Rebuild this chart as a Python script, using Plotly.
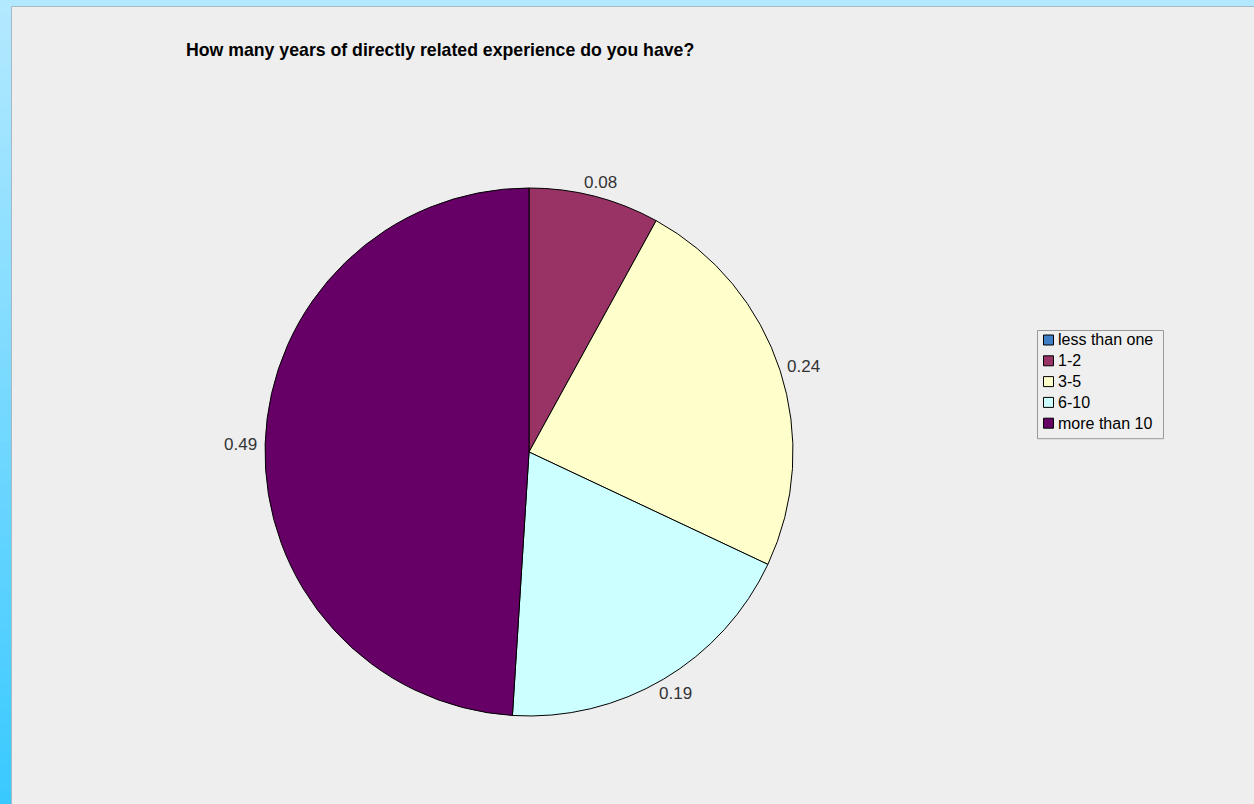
import math
import plotly.graph_objects as go

W, H = 1254, 804

categories = ["less than one", "1-2", "3-5", "6-10", "more than 10"]
shares = [0.0, 0.08, 0.24, 0.19, 0.49]
slice_colors = ["#3F7EC4", "#993366", "#FFFFCC", "#CCFFFF", "#660066"]

title_text = "How many years of directly related experience do you have?"

FONT = "Liberation Sans, Arial, sans-serif"

# pie placement in pixels
CX, CY, R = 529, 452, 264


def px_x(v):
    return v / W


def px_y(v):
    return 1 - v / H


fig = go.Figure()

fig.add_trace(go.Pie(
    labels=categories,
    values=shares,
    textinfo="none",
    sort=False,
    direction="clockwise",
    rotation=0,
    marker=dict(colors=slice_colors, line=dict(color="#000000", width=1)),
    hoverinfo="label+value",
    domain=dict(x=[px_x(CX - R), px_x(CX + R)], y=[px_y(CY + R), px_y(CY - R)]),
    showlegend=False,
))

# window frame: light blue top strip and a gradient strip along the left side
shapes = []
top_rgb = (179, 233, 255)
bot_rgb = (58, 201, 255)
bands = 60
for i in range(bands):
    t = i / (bands - 1)
    r = round(top_rgb[0] + (bot_rgb[0] - top_rgb[0]) * t)
    g = round(top_rgb[1] + (bot_rgb[1] - top_rgb[1]) * t)
    b = round(top_rgb[2] + (bot_rgb[2] - top_rgb[2]) * t)
    y0 = i * H / bands
    y1 = (i + 1) * H / bands + 1
    shapes.append(dict(type="rect", xref="paper", yref="paper",
                       x0=px_x(0), x1=px_x(11), y0=px_y(y1), y1=px_y(y0),
                       fillcolor=f"rgb({r},{g},{b})", line=dict(width=0), layer="below"))
shapes.append(dict(type="rect", xref="paper", yref="paper",
                   x0=px_x(0), x1=px_x(W), y0=px_y(6), y1=px_y(0),
                   fillcolor="rgb(179,233,255)", line=dict(width=0), layer="below"))
shapes.append(dict(type="line", xref="paper", yref="paper",
                   x0=px_x(11.5), x1=px_x(W), y0=px_y(6.5), y1=px_y(6.5),
                   line=dict(color="#A7B9C4", width=1), layer="below"))
shapes.append(dict(type="line", xref="paper", yref="paper",
                   x0=px_x(11.5), x1=px_x(11.5), y0=px_y(H), y1=px_y(6.5),
                   line=dict(color="#A7B9C4", width=1), layer="below"))

annotations = [dict(
    text=f"<b>{title_text}</b>",
    xref="paper", yref="paper",
    x=px_x(184), y=px_y(50),
    xanchor="left", yanchor="middle",
    showarrow=False,
    font=dict(family=FONT, size=17.7, color="#000000"),
)]

# value labels just outside each slice, along the slice's mid-angle
total = sum(shares)
cum = 0.0
label_w, label_h, gap = 33, 14, 8
for v in shares:
    mid = (cum + v / 2) / total * 2 * math.pi
    cum += v
    if v <= 0:
        continue
    dx, dy = math.sin(mid), -math.cos(mid)
    lx = CX + dx * (R + gap) + dx * label_w / 2
    ly = CY + dy * (R + gap) + dy * label_h / 2 + 1
    annotations.append(dict(
        text=f"{v:.2f}", xref="paper", yref="paper",
        x=px_x(lx), y=px_y(ly),
        xanchor="center", yanchor="middle", showarrow=False,
        font=dict(family=FONT, size=17, color="#333333"),
    ))

# compact legend box: small bordered swatch followed by the category name
leg_left, leg_top, leg_right = 1037, 330, 1163
row_h = 20.8
first_row = 340
leg_bottom = first_row + row_h * (len(categories) - 1) + 15
shapes.append(dict(type="rect", xref="paper", yref="paper",
                   x0=px_x(leg_left + 0.5), x1=px_x(leg_right + 0.5),
                   y0=px_y(leg_bottom + 0.5), y1=px_y(leg_top + 0.5),
                   fillcolor="#EFEFEF", line=dict(color="#999999", width=1)))
for k, (name, col) in enumerate(zip(categories, slice_colors)):
    cy = first_row + k * row_h
    shapes.append(dict(type="rect", xref="paper", yref="paper",
                       x0=px_x(1043.5), x1=px_x(1053.5),
                       y0=px_y(cy + 5), y1=px_y(cy - 5),
                       fillcolor=col, line=dict(color="#000000", width=1)))
    annotations.append(dict(
        text=name, xref="paper", yref="paper",
        x=px_x(1056), y=px_y(cy),
        xanchor="left", yanchor="middle", showarrow=False,
        font=dict(family=FONT, size=16, color="#000000"),
    ))

fig.update_layout(
    width=W,
    height=H,
    margin=dict(l=0, r=0, t=0, b=0),
    paper_bgcolor="#EEEEEE",
    plot_bgcolor="#EEEEEE",
    shapes=shapes,
    annotations=annotations,
    showlegend=False,
)

fig.write_html("out.html")
